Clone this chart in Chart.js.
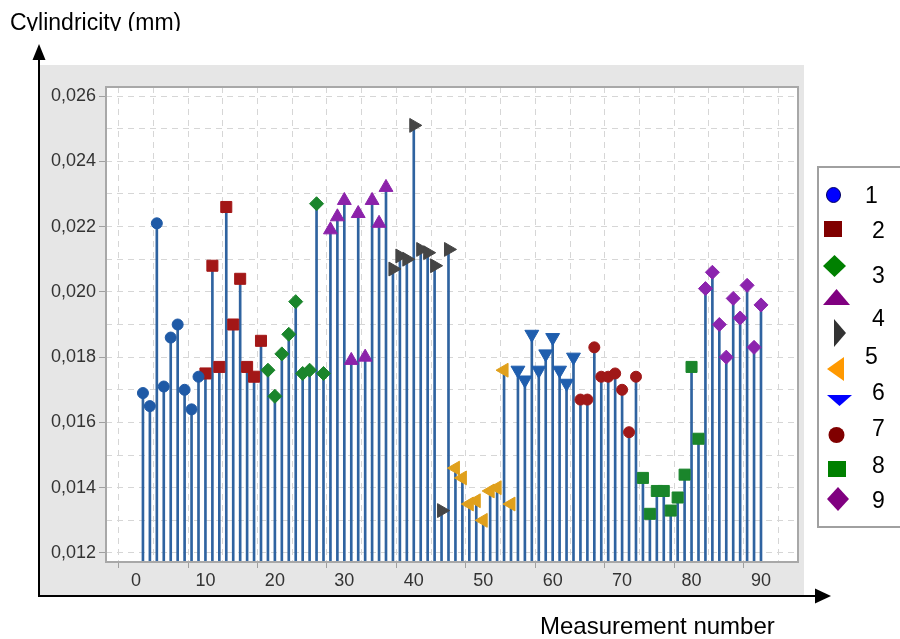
<!DOCTYPE html>
<html><head><meta charset="utf-8">
<script src="https://cdn.jsdelivr.net/npm/chart.js@4.4.1/dist/chart.umd.min.js"></script>
<style>
html,body{margin:0;padding:0;background:#fff;width:900px;height:639px;overflow:hidden;font-family:'Liberation Sans',Arial,sans-serif;}
#panel{position:absolute;left:40px;top:65px;width:764px;height:530px;background:#e6e6e6;}
#wrap{position:absolute;left:0;top:0;width:900px;height:639px;}
#deco{position:absolute;left:0;top:0;}
.t{position:absolute;white-space:nowrap;line-height:1;color:#000;}
#yclip{position:absolute;left:0;top:0;width:320px;height:31px;overflow:hidden;}
#legend{position:absolute;left:817px;top:166px;width:110px;height:362px;border:2px solid #a0a0a0;background:#fff;box-sizing:border-box;}
</style></head>
<body>
<div id="panel"></div>
<div id="wrap"><canvas id="c" width="900" height="639"></canvas></div>
<div id="legend"></div>
<svg id="deco" width="900" height="639" xmlns="http://www.w3.org/2000/svg">
  <line x1="39" y1="58" x2="39" y2="597" stroke="#000" stroke-width="2"/>
  <polygon points="32.5,60 39,44 45.5,60" fill="#000"/>
  <line x1="38" y1="596" x2="817" y2="596" stroke="#000" stroke-width="2"/>
  <polygon points="815,588.5 831,596 815,603.5" fill="#000"/>
  <ellipse cx="833.5" cy="195" rx="7" ry="7.5" fill="#0000ff" stroke="#000060" stroke-width="1"/>
  <rect x="824" y="221" width="18" height="16" fill="#800000"/>
  <polygon points="823,266 834.5,255 846,266 834.5,277" fill="#008000"/>
  <polygon points="823,305 836.5,289 850,305" fill="#800080"/>
  <polygon points="834,319 846,333 834,347" fill="#333333"/>
  <polygon points="844,357 827,369 844,381" fill="#ff9900"/>
  <polygon points="827,395 852,395 839.5,406" fill="#0000ff"/>
  <circle cx="836.5" cy="435" r="8" fill="#800000"/>
  <rect x="828" y="461" width="18" height="16" fill="#008000"/>
  <polygon points="827,499 838,487 849,499 838,511" fill="#800080"/>
</svg>
<div id="yclip"><span class="t" style="left:10px;top:10.5px;font-size:23px;">Cylindricity (mm)</span></div>
<span class="t" style="left:540px;top:614px;font-size:24px;">Measurement number</span>
<span class="t" style="left:865px;top:184px;font-size:23px;">1</span>
<span class="t" style="left:872px;top:219px;font-size:23px;">2</span>
<span class="t" style="left:872px;top:264px;font-size:23px;">3</span>
<span class="t" style="left:872px;top:307px;font-size:23px;">4</span>
<span class="t" style="left:865px;top:345px;font-size:23px;">5</span>
<span class="t" style="left:872px;top:381px;font-size:23px;">6</span>
<span class="t" style="left:872px;top:417px;font-size:23px;">7</span>
<span class="t" style="left:872px;top:454px;font-size:23px;">8</span>
<span class="t" style="left:872px;top:489px;font-size:23px;">9</span>
<script>
// ---- data (cylindricity in mm, measurements 1..90 in groups of 9) ----
const groupStart = [1, 10, 19, 28, 37, 46, 55, 64, 73, 82];
const group1  = [0.0169, 0.0165, 0.0221, 0.0171, 0.0186, 0.0190, 0.0170, 0.0164, 0.0174];
const group2  = [0.0175, 0.0208, 0.0177, 0.0226, 0.0190, 0.0204, 0.0177, 0.0174, 0.0185];
const group3  = [0.0176, 0.0168, 0.0181, 0.0187, 0.0197, 0.0175, 0.0176, 0.0227, 0.0175];
const group4  = [0.0219, 0.0223, 0.0228, 0.0179, 0.0224, 0.0180, 0.0228, 0.0221, 0.0232];
const group5  = [0.0207, 0.0211, 0.0210, 0.0251, 0.0213, 0.0212, 0.0208, 0.0133, 0.0213];
const group6  = [0.0146, 0.0143, 0.0135, 0.0136, 0.0130, 0.0139, 0.0140, 0.0176, 0.0135];
const group7  = [0.0176, 0.0173, 0.0187, 0.0176, 0.0181, 0.0186, 0.0176, 0.0172, 0.0180];
const group8  = [0.0167, 0.0167, 0.0183, 0.0174, 0.0174, 0.0175, 0.0170, 0.0157, 0.0174];
const group9  = [0.0143, 0.0132, 0.0139, 0.0139, 0.0133, 0.0137, 0.0144, 0.0177, 0.0155];
const group10 = [0.0201, 0.0206, 0.0190, 0.0180, 0.0198, 0.0192, 0.0202, 0.0183, 0.0196];
const groups = [group1, group2, group3, group4, group5, group6, group7, group8, group9, group10];

const xTickValues = [0, 10, 20, 30, 40, 50, 60, 70, 80, 90];
const xTickLabels = ['0', '10', '20', '30', '40', '50', '60', '70', '80', '90'];
const yTickValues = [0.012, 0.014, 0.016, 0.018, 0.020, 0.022, 0.024, 0.026];
const yTickLabels = ['0,012', '0,014', '0,016', '0,018', '0,020', '0,022', '0,024', '0,026'];
const xGridValues = [0, 5, 10, 15, 20, 25, 30, 35, 40, 45, 50, 55, 60, 65, 70, 75, 80, 85, 90];
const yGridValues = [0.012, 0.013, 0.014, 0.015, 0.016, 0.017, 0.018, 0.019, 0.020, 0.021, 0.022, 0.023, 0.024, 0.025, 0.026];

// ---- styles ----
const X_MIN = -4.32, X_MAX = 95.33, Y_MIN = 0.011724, Y_MAX = 0.026276;
const markerStyles = [
  {style: 'circle',   rot: 0,   r: 5.5, color: '#1f5aa6'},
  {style: 'rect',     rot: 0,   r: 7.8, color: '#a31717'},
  {style: 'rectRot',  rot: 0,   r: 7,   color: '#1a852b'},
  {style: 'triangle', rot: 0,   r: 8,   color: '#8c22aa'},
  {style: 'triangle', rot: 90,  r: 8,   color: '#454545'},
  {style: 'triangle', rot: -90, r: 8,   color: '#e0a01c'},
  {style: 'triangle', rot: 180, r: 8,   color: '#1f5eae'},
  {style: 'circle',   rot: 0,   r: 5.5, color: '#a01818'},
  {style: 'rect',     rot: 0,   r: 7.8, color: '#1a852b'},
  {style: 'rectRot',  rot: 0,   r: 7,   color: '#8c24ae'}
];

const stemData = [];
const datasets = groups.map((vals, g) => {
  const s = markerStyles[g];
  const pts = vals.map((v, i) => ({x: groupStart[g] + i, y: v}));
  pts.forEach(p => stemData.push({x: p.x, y: [Y_MIN, p.y]}));
  return {
    type: 'scatter', data: pts, order: 0,
    pointStyle: s.style, rotation: s.rot, pointRadius: s.r, pointHoverRadius: s.r,
    backgroundColor: s.color, borderColor: s.color, borderWidth: 1
  };
});
datasets.push({
  type: 'bar', data: stemData, order: 10,
  backgroundColor: '#2f63a0', borderWidth: 0, barThickness: 2, grouped: false
});

const near = (a, b) => Math.abs(a - b) < 1e-9;
const xLabelOf = v => { const i = xTickValues.findIndex(t => near(t, v)); return i >= 0 ? xTickLabels[i] : ''; };
const yLabelOf = v => { const i = yTickValues.findIndex(t => near(t, v)); return i >= 0 ? yTickLabels[i] : ''; };

const framePlugin = {
  id: 'frame',
  beforeDraw(chart) {
    const {ctx, chartArea: a} = chart;
    ctx.save(); ctx.fillStyle = '#ffffff';
    ctx.fillRect(a.left, a.top, a.right - a.left, a.bottom - a.top); ctx.restore();
  },
  afterDatasetsDraw(chart) {
    const {ctx, chartArea: a} = chart;
    ctx.save(); ctx.strokeStyle = '#a8a8a8'; ctx.lineWidth = 2;
    ctx.strokeRect(a.left, a.top, a.right - a.left, a.bottom - a.top); ctx.restore();
  }
};

const tickFont = {family: "'Liberation Sans', Arial, sans-serif", size: 18};
new Chart(document.getElementById('c'), {
  type: 'scatter',
  data: {datasets},
  options: {
    responsive: false, animation: false, devicePixelRatio: 1,
    events: [],
    layout: {padding: {left: 40, top: 87, right: 102, bottom: 43}},
    plugins: {legend: {display: false}, tooltip: {enabled: false}},
    scales: {
      x: {
        type: 'linear', min: X_MIN, max: X_MAX, offset: false,
        afterBuildTicks: sc => { sc.ticks = xGridValues.map(v => ({value: v})); },
        afterFit: sc => { sc.height = 34; },
        ticks: {autoSkip: false, maxRotation: 0, padding: 2, color: '#333', font: tickFont,
                callback: v => xLabelOf(v)},
        grid: {color: '#d6d6d6', lineWidth: 1, drawTicks: true, tickLength: 6,
               tickColor: c => (c.tick && xLabelOf(c.tick.value) !== '') ? '#a0a0a0' : 'rgba(0,0,0,0)'},
        border: {display: false, dash: [6, 5]}
      },
      y: {
        type: 'linear', min: Y_MIN, max: Y_MAX,
        afterBuildTicks: sc => { sc.ticks = yGridValues.map(v => ({value: v})); },
        afterFit: sc => { sc.width = 66; },
        ticks: {autoSkip: false, padding: 3, color: '#333', font: tickFont,
                callback: v => yLabelOf(v)},
        grid: {color: '#d6d6d6', lineWidth: 1, drawTicks: true, tickLength: 7,
               tickColor: c => (c.tick && yLabelOf(c.tick.value) !== '') ? '#a0a0a0' : 'rgba(0,0,0,0)'},
        border: {display: false, dash: [6, 5]}
      }
    }
  },
  plugins: [framePlugin]
});
</script>
</body></html>
